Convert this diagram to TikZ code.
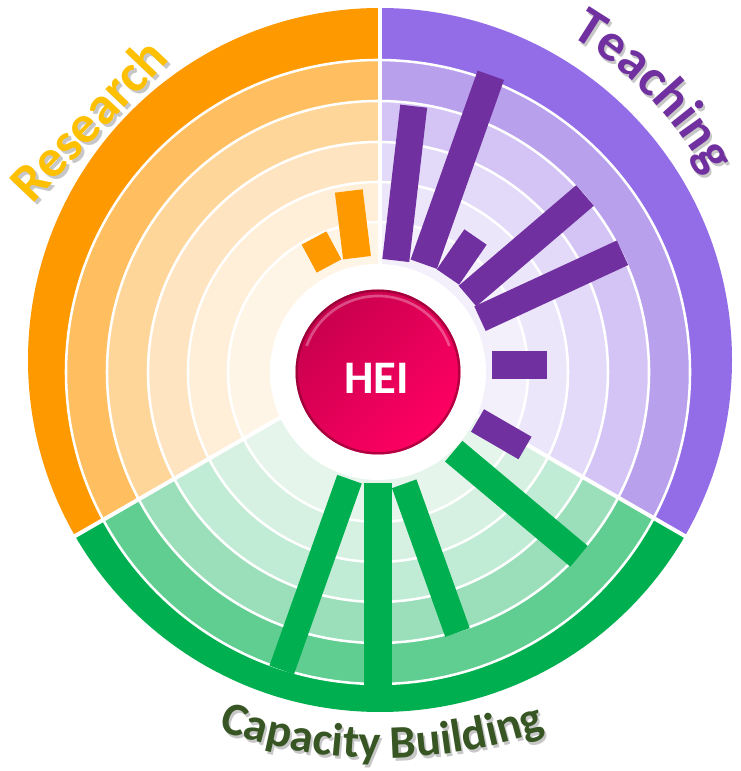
\documentclass[tikz,border=0pt]{standalone}
\usepackage{fontspec}
\setmainfont{Carlito}
\usepackage{xcolor}
\usepackage{tikz}
\usetikzlibrary{decorations.text}

\definecolor{res1}{RGB}{255,153,0}
\definecolor{res2}{RGB}{255,190,95}
\definecolor{res3}{RGB}{255,214,153}
\definecolor{res4}{RGB}{255,228,193}
\definecolor{res5}{RGB}{255,238,216}
\definecolor{res6}{RGB}{255,245,231}
\definecolor{tea1}{RGB}{147,108,232}
\definecolor{tea2}{RGB}{185,160,237}
\definecolor{tea3}{RGB}{211,196,245}
\definecolor{tea4}{RGB}{226,218,248}
\definecolor{tea5}{RGB}{236,230,251}
\definecolor{tea6}{RGB}{243,240,252}
\definecolor{cap1}{RGB}{0,176,80}
\definecolor{cap2}{RGB}{96,205,145}
\definecolor{cap3}{RGB}{154,223,186}
\definecolor{cap4}{RGB}{192,235,212}
\definecolor{cap5}{RGB}{214,241,226}
\definecolor{cap6}{RGB}{229,245,236}
\definecolor{resBar}{RGB}{255,153,0}
\definecolor{teaBar}{RGB}{112,48,160}
\definecolor{capBar}{RGB}{0,176,80}
\definecolor{resText}{RGB}{255,192,0}
\definecolor{teaText}{RGB}{112,48,160}
\definecolor{capText}{RGB}{55,86,35}
\definecolor{heiDark}{RGB}{200,0,78}
\definecolor{heiBright}{RGB}{255,0,98}
\definecolor{heiRim}{RGB}{120,0,40}

\newcommand{\bigfont}{\bfseries\fontsize{40pt}{40pt}\selectfont}
\newcommand{\teachfont}{\bfseries\fontsize{40pt}{40pt}\selectfont}
\newcommand{\capfont}{\bfseries\fontsize{35pt}{35pt}\selectfont}

\tikzset{
	spoke/.style={line width=#1, line cap=butt},
	ringline/.style={draw=white, line width=1.9pt},
	divider/.style={draw=white, line width=3pt},
}

\begin{document}
\begin{tikzpicture}[x=0.75pt, y=0.75pt]
	\useasboundingbox (0,0) rectangle (740,771);
	
	\foreach \a/\b/\s in {90/210/res, -30/90/tea, 210/330/cap}{
		\begin{scope}
			\clip (380,411) -- ++(\a:400) arc[start angle=\a, end angle=\b, radius=400] -- cycle;
			\fill[\s1] (380,411) circle[radius=352];
			\fill[\s2] (378,399) circle[radius=312];
			\fill[\s3] (378,399) circle[radius=271];
			\fill[\s4] (378,399) circle[radius=230];
			\fill[\s5] (378,399) circle[radius=190];
			\fill[\s6] (378,399) circle[radius=150];
		\end{scope}
	}
	\foreach \r in {312,271,230,190,150}
		\draw[ringline] (378,399) circle[radius=\r];
	\foreach \a in {90,210,330}
		\draw[divider] (380,411) -- ++(\a:356);
	\fill[white] (378,399) circle[radius=108];
	
	\draw[spoke=21pt, draw=resBar] (329,505) -- (314,533);
	\draw[spoke=21pt, draw=resBar] (357,513.3) -- (348.8,580);
	
	\draw[spoke=20.3pt, draw=teaBar] (395.8,510.5) -- (413.7,664.8);
	\draw[spoke=21pt, draw=teaBar] (423.8,506.8) -- (490.8,695.7);
	\draw[spoke=20.3pt, draw=teaBar] (448,494) -- (475.5,534);
	\draw[spoke=20.3pt, draw=teaBar] (467.5,475) -- (585,575.5);
	\draw[spoke=20.3pt, draw=teaBar] (480,452.3) -- (622.5,518.2);
	\draw[spoke=21pt, draw=teaBar] (491.7,406) -- (546.7,406);
	\draw[spoke=19.5pt, draw=teaBar] (477.5,350.5) -- (525,323);
	
	\draw[spoke=20.3pt, draw=capBar] (453.7,319.8) -- (579,214.7);
	\draw[spoke=19.5pt, draw=capBar] (404.2,287.2) -- (457.5,138.5);
	\draw[spoke=21pt, draw=capBar] (377.5,287.7) -- (377.5,81);
	\draw[spoke=19.5pt, draw=capBar] (349.5,291.8) -- (281.7,101);
	
	\shade[top color=heiDark, bottom color=heiBright, shading angle=45] (378,399) circle[radius=82.5];
	\draw[draw=heiRim, line width=1.8pt, opacity=0.55] (378,399) circle[radius=81.3];
	\draw[draw=white, line width=2pt, opacity=0.3] (378,399) ++(160:76) arc[start angle=160, end angle=20, radius=76];
	\node[text=white, font=\bfseries\fontsize{35pt}{35pt}\selectfont] (hei) at (376.5,393) {HEI};
	
	\node[text=black!22, font=\bigfont, rotate=46.5] (researchShadow) at (91,649) {Research};
	\node[text=resText, font=\bigfont, rotate=46.5] (research) at (88,652) {Research};
	
	\path[decorate, decoration={text along path, text align=center,
		text={|\teachfont\color{black!22}|Teaching}}]
		([shift={(382,408)}]64.5:376) arc[start angle=64.5, end angle=24.5, radius=376];
	\path[decorate, decoration={text along path, text align=center,
		text={|\teachfont\color{teaText}|Teaching}}]
		([shift={(380,411)}]64.5:376) arc[start angle=64.5, end angle=24.5, radius=376];
	
	\path[decorate, decoration={text along path, text align=center,
		text={|\capfont\color{black!22}|Capacity Building}}]
		([shift={(384,503)}]245:493) arc[start angle=245, end angle=295, radius=493];
	\path[decorate, decoration={text along path, text align=center,
		text={|\capfont\color{capText}|Capacity Building}}]
		([shift={(382,506)}]245:493) arc[start angle=245, end angle=295, radius=493];
\end{tikzpicture}
\end{document}
